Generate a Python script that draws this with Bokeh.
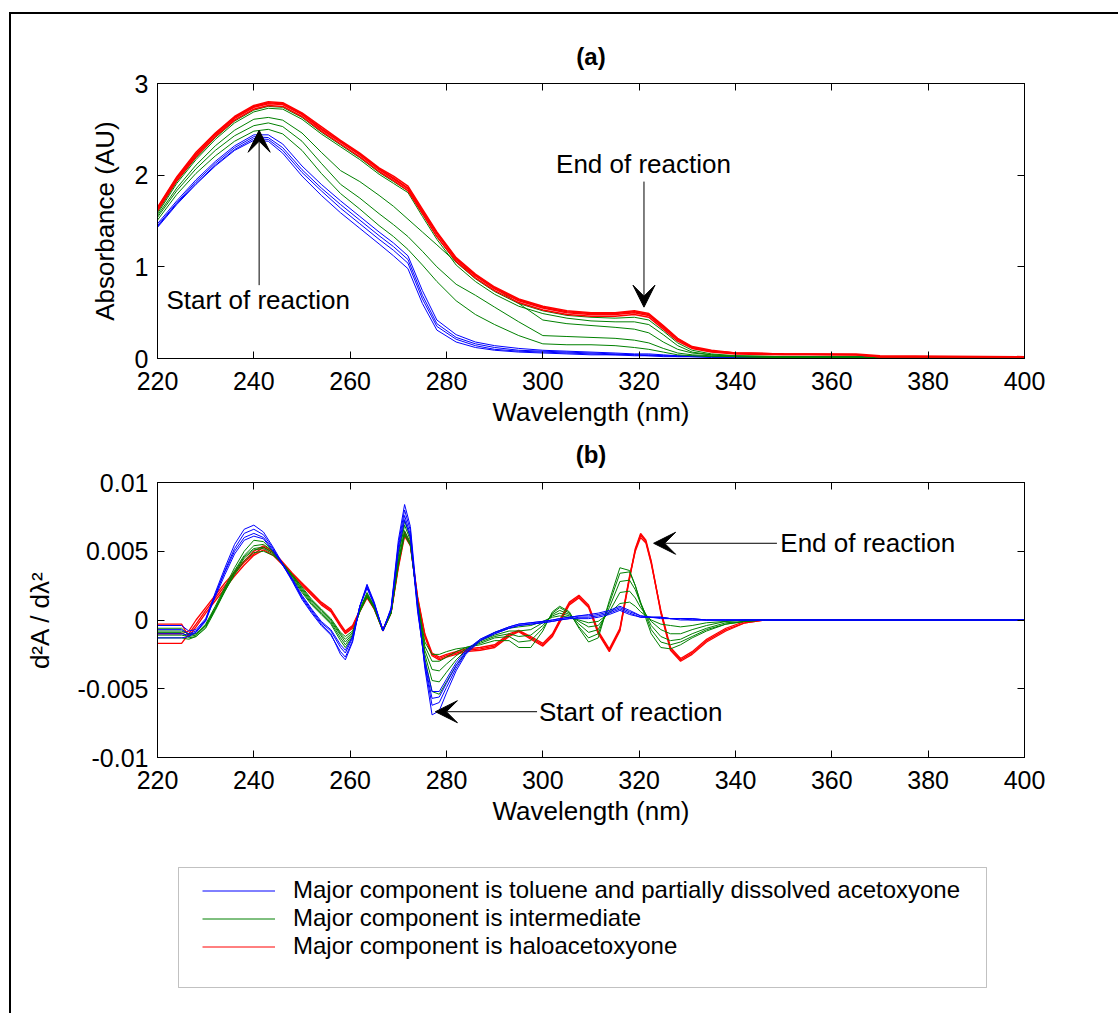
from bokeh.plotting import figure
from bokeh.models import (Range1d, FixedTicker, LinearAxis, CustomJSTickFormatter,
                          Label, Arrow, VeeHead, Legend, LegendItem, BoxAnnotation)
from bokeh.layouts import column
from bokeh.embed import file_html
from bokeh.resources import INLINE

FONT = "Liberation Sans"
BLUE = "#0000FF"
GREEN = "#008000"
RED = "#FF0000"

# ---------------- panel (a): absorbance ----------------
WL_A = [220, 224, 228, 232, 236, 240, 243, 246, 250, 254, 258, 262, 266, 269, 272, 275, 278, 282,
        286, 290, 295, 300, 305, 310, 315, 319, 322, 325, 328, 331, 335, 340, 350, 365, 370, 400]

ABS_BLUE = [
    [1.47, 1.72, 1.95, 2.15, 2.32, 2.44, 2.44, 2.34, 2.10, 1.90, 1.72, 1.55, 1.38, 1.26, 1.12, 0.74, 0.42, 0.26,
     0.18, 0.14, 0.11, 0.09, 0.08, 0.07, 0.06, 0.05, 0.05, 0.04, 0.03, 0.03, 0.02, 0.02, 0.02, 0.02, 0.02, 0.02],
    [1.45, 1.70, 1.93, 2.13, 2.30, 2.42, 2.41, 2.30, 2.06, 1.86, 1.68, 1.51, 1.34, 1.22, 1.08, 0.69, 0.38, 0.23,
     0.16, 0.12, 0.09, 0.08, 0.07, 0.06, 0.05, 0.04, 0.04, 0.03, 0.03, 0.02, 0.02, 0.02, 0.01, 0.01, 0.01, 0.01],
    [1.44, 1.69, 1.91, 2.11, 2.28, 2.40, 2.39, 2.27, 2.03, 1.83, 1.64, 1.47, 1.30, 1.18, 1.04, 0.65, 0.35, 0.21,
     0.14, 0.10, 0.08, 0.07, 0.06, 0.05, 0.04, 0.04, 0.03, 0.03, 0.02, 0.02, 0.02, 0.01, 0.01, 0.01, 0.01, 0.01],
    [1.43, 1.68, 1.90, 2.10, 2.27, 2.38, 2.37, 2.24, 1.99, 1.78, 1.59, 1.42, 1.25, 1.12, 0.98, 0.60, 0.31, 0.18,
     0.12, 0.09, 0.07, 0.06, 0.05, 0.04, 0.04, 0.03, 0.03, 0.02, 0.02, 0.02, 0.01, 0.01, 0.01, 0.01, 0.01, 0.01],
]

ABS_GREEN = [
    [1.60, 1.93, 2.19, 2.41, 2.59, 2.71, 2.75, 2.74, 2.63, 2.47, 2.33, 2.19, 2.03, 1.93, 1.83, 1.58, 1.33, 1.05,
     0.87, 0.73, 0.60, 0.52, 0.47, 0.45, 0.44, 0.45, 0.42, 0.30, 0.17, 0.09, 0.05, 0.03, 0.02, 0.02, 0.01, 0.01],
    [1.58, 1.91, 2.17, 2.39, 2.57, 2.69, 2.73, 2.72, 2.61, 2.45, 2.31, 2.17, 2.01, 1.91, 1.81, 1.55, 1.30, 1.02,
     0.84, 0.70, 0.57, 0.49, 0.44, 0.41, 0.40, 0.40, 0.37, 0.26, 0.14, 0.07, 0.04, 0.03, 0.02, 0.02, 0.01, 0.01],
    [1.56, 1.86, 2.11, 2.32, 2.49, 2.61, 2.63, 2.60, 2.46, 2.25, 2.05, 1.93, 1.78, 1.66, 1.52, 1.38, 1.24, 1.05,
     0.91, 0.77, 0.60, 0.42, 0.38, 0.36, 0.34, 0.32, 0.28, 0.18, 0.10, 0.06, 0.04, 0.02, 0.02, 0.01, 0.01, 0.01],
    [1.54, 1.83, 2.07, 2.27, 2.43, 2.54, 2.57, 2.53, 2.37, 2.13, 1.90, 1.75, 1.58, 1.46, 1.33, 1.17, 1.00, 0.81,
     0.69, 0.56, 0.40, 0.25, 0.24, 0.23, 0.22, 0.20, 0.17, 0.11, 0.06, 0.04, 0.03, 0.02, 0.01, 0.01, 0.01, 0.01],
    [1.51, 1.79, 2.02, 2.21, 2.37, 2.48, 2.50, 2.45, 2.27, 2.02, 1.80, 1.63, 1.45, 1.33, 1.19, 1.02, 0.84, 0.63,
     0.48, 0.37, 0.25, 0.16, 0.15, 0.15, 0.14, 0.12, 0.10, 0.07, 0.04, 0.03, 0.02, 0.02, 0.01, 0.01, 0.01, 0.01],
]

ABS_RED = [
    [1.63, 1.96, 2.22, 2.44, 2.62, 2.74, 2.78, 2.77, 2.66, 2.50, 2.36, 2.22, 2.06, 1.96, 1.85, 1.60, 1.36, 1.08,
     0.90, 0.76, 0.63, 0.55, 0.50, 0.48, 0.48, 0.50, 0.47, 0.34, 0.21, 0.12, 0.08, 0.06, 0.05, 0.04, 0.02, 0.02],
    [1.65, 1.98, 2.25, 2.46, 2.64, 2.76, 2.80, 2.79, 2.68, 2.53, 2.38, 2.24, 2.08, 1.99, 1.88, 1.63, 1.38, 1.10,
     0.92, 0.78, 0.65, 0.57, 0.52, 0.50, 0.50, 0.52, 0.49, 0.36, 0.22, 0.13, 0.09, 0.06, 0.05, 0.05, 0.03, 0.02],
    [1.61, 1.94, 2.20, 2.42, 2.60, 2.72, 2.76, 2.75, 2.64, 2.48, 2.34, 2.20, 2.04, 1.94, 1.83, 1.58, 1.33, 1.06,
     0.88, 0.74, 0.61, 0.53, 0.48, 0.46, 0.46, 0.48, 0.45, 0.32, 0.19, 0.11, 0.07, 0.05, 0.04, 0.04, 0.02, 0.02],
    [1.64, 1.97, 2.23, 2.45, 2.63, 2.75, 2.79, 2.78, 2.67, 2.51, 2.37, 2.23, 2.07, 1.97, 1.86, 1.61, 1.37, 1.09,
     0.91, 0.77, 0.64, 0.56, 0.51, 0.49, 0.49, 0.51, 0.48, 0.35, 0.21, 0.12, 0.08, 0.06, 0.05, 0.04, 0.02, 0.02],
]

# ---------------- panel (b): second derivative (values in units of 1e-3) ----------------
WL_B = [220, 225, 226.5, 228, 230, 232, 234, 236, 238, 240,
        242, 244, 246, 248, 250, 252, 254, 256, 258, 259,
        260.5, 262, 263.5, 265, 266.8, 268.5, 270, 271.3, 272.5, 274,
        275.5, 277, 278.5, 280, 282, 284, 287, 290, 293, 295,
        297.5, 300, 302, 303.5, 305.5, 307.5, 309.5, 311.5, 313.8, 316,
        318, 319.2, 320.3, 321.4, 322.5, 324.5, 326.5, 328.6, 331, 334,
        338, 342, 346, 400]

D2_BLUE = [
    [-0.7, -0.7, -1.0, -0.8, 0.0, 2.0, 3.8, 5.5, 6.6, 6.9,
     6.4, 5.3, 4.1, 2.9, 1.6, 0.6, -0.3, -1.0, -2.5, -2.9,
     -1.6, 1.0, 2.6, 1.3, -0.8, 0.9, 5.8, 8.4, 6.8, 1.2,
     -3.5, -6.9, -6.6, -5.3, -3.7, -2.5, -1.5, -1.0, -0.6, -0.4,
     -0.3, -0.2, -0.1, 0.0, 0.1, 0.1, 0.1, 0.2, 0.4, 0.7,
     0.4, 0.3, 0.2, 0.2, 0.2, 0.2, 0.1, 0.1, 0.1, 0.0,
     0.0, 0.0, 0.0, 0.0],
    [-1.0, -1.0, -1.1, -0.9, -0.1, 1.8, 3.6, 5.2, 6.3, 6.6,
     6.2, 5.2, 4.0, 2.8, 1.5, 0.5, -0.4, -1.1, -2.3, -2.7,
     -1.5, 1.0, 2.5, 1.2, -0.8, 0.8, 5.5, 8.0, 6.5, 1.0,
     -3.3, -6.2, -6.0, -4.9, -3.5, -2.4, -1.5, -1.0, -0.6, -0.4,
     -0.3, -0.2, -0.1, 0.0, 0.1, 0.2, 0.2, 0.3, 0.5, 0.8,
     0.5, 0.35, 0.2, 0.2, 0.2, 0.2, 0.1, 0.1, 0.1, 0.0,
     0.0, 0.0, 0.0, 0.0],
    [-0.4, -0.4, -0.8, -0.7, 0.1, 1.9, 3.5, 5.0, 6.0, 6.3,
     6.0, 5.1, 4.0, 2.9, 1.7, 0.7, -0.2, -0.8, -2.0, -2.4,
     -1.3, 1.0, 2.4, 1.2, -0.7, 0.8, 5.3, 7.6, 6.2, 0.8,
     -3.2, -5.7, -5.6, -4.6, -3.3, -2.3, -1.4, -0.9, -0.5, -0.3,
     -0.2, -0.1, 0.0, 0.1, 0.2, 0.3, 0.3, 0.4, 0.6, 0.9,
     0.6, 0.45, 0.3, 0.25, 0.2, 0.2, 0.1, 0.1, 0.0, 0.0,
     0.0, 0.0, 0.0, 0.0],
    [-1.3, -1.3, -1.2, -0.9, 0.0, 1.7, 3.3, 4.8, 5.8, 6.1,
     5.9, 5.0, 4.0, 3.0, 1.8, 0.8, -0.1, -0.7, -1.8, -2.2,
     -1.2, 1.0, 2.3, 1.1, -0.7, 0.7, 5.0, 7.3, 6.0, 0.6,
     -3.0, -5.2, -5.2, -4.3, -3.1, -2.2, -1.4, -0.9, -0.5, -0.3,
     -0.2, -0.1, 0.0, 0.1, 0.2, 0.3, 0.4, 0.5, 0.7, 1.0,
     0.7, 0.5, 0.3, 0.25, 0.2, 0.1, 0.1, 0.0, 0.0, 0.0,
     0.0, 0.0, 0.0, 0.0],
]

D2_GREEN = [
    [-0.8, -0.8, -1.0, -1.0, -0.3, 1.0, 2.4, 3.8, 5.0, 5.8,
     5.7, 5.0, 4.0, 3.0, 2.0, 1.1, 0.4, -0.3, -1.5, -2.0,
     -1.2, 0.8, 2.0, 1.0, -0.8, 0.7, 4.8, 7.2, 6.0, 1.0,
     -2.8, -5.2, -5.4, -4.5, -3.3, -2.4, -1.5, -0.9, -0.6, -0.5,
     -0.4, -0.1, 0.2, 0.3, 0.2, 0.0, -0.2, -0.1, 0.5, 1.2,
     1.3, 1.0, 0.6, 0.3, 0.0, -0.3, -0.4, -0.5, -0.4, -0.2,
     -0.1, 0.0, 0.0, 0.0],
    [-1.1, -1.1, -1.2, -1.1, -0.4, 0.9, 2.3, 3.6, 4.7, 5.4,
     5.5, 5.0, 4.1, 3.1, 2.1, 1.2, 0.5, -0.2, -1.3, -1.8,
     -1.1, 0.7, 1.9, 1.0, -0.8, 0.6, 4.6, 6.9, 5.8, 1.1,
     -2.5, -4.4, -4.5, -3.8, -2.9, -2.2, -1.5, -1.1, -0.8, -0.8,
     -0.7, -0.2, 0.3, 0.5, 0.3, -0.1, -0.5, -0.4, 0.6, 2.0,
     2.1, 1.6, 0.9, 0.4, -0.1, -0.7, -1.0, -1.0, -0.7, -0.4,
     -0.1, 0.0, 0.0, 0.0],
    [-0.9, -0.9, -1.3, -1.2, -0.5, 0.8, 2.2, 3.5, 4.6, 5.2,
     5.3, 4.9, 4.1, 3.2, 2.2, 1.3, 0.6, -0.1, -1.1, -1.6,
     -1.0, 0.7, 1.8, 0.9, -0.8, 0.5, 4.3, 6.5, 5.6, 1.2,
     -2.2, -3.6, -3.7, -3.2, -2.6, -2.1, -1.6, -1.2, -1.0, -1.2,
     -1.1, -0.4, 0.4, 0.7, 0.4, -0.3, -0.9, -0.7, 0.9, 2.8,
     2.9, 2.2, 1.2, 0.4, -0.4, -1.2, -1.5, -1.4, -1.0, -0.6,
     -0.2, -0.1, 0.0, 0.0],
    [-1.3, -1.3, -1.4, -1.2, -0.6, 0.7, 2.1, 3.4, 4.5, 5.1,
     5.2, 4.8, 4.1, 3.2, 2.3, 1.4, 0.7, 0.0, -1.0, -1.4,
     -0.9, 0.6, 1.7, 0.9, -0.8, 0.5, 4.1, 6.3, 5.5, 1.3,
     -1.9, -3.0, -3.0, -2.7, -2.3, -2.0, -1.7, -1.3, -1.2, -1.6,
     -1.5, -0.6, 0.5, 0.9, 0.5, -0.5, -1.3, -1.0, 1.2, 3.4,
     3.5, 2.5, 1.3, 0.3, -0.7, -1.6, -1.8, -1.6, -1.2, -0.7,
     -0.3, -0.1, 0.0, 0.0],
    [-0.6, -0.6, -1.1, -1.0, -0.4, 0.8, 2.1, 3.3, 4.3, 4.9,
     5.0, 4.7, 4.1, 3.3, 2.4, 1.5, 0.8, 0.1, -0.9, -1.2,
     -0.8, 0.6, 1.7, 0.8, -0.8, 0.5, 4.0, 6.2, 5.4, 1.4,
     -1.6, -2.5, -2.5, -2.3, -2.1, -2.0, -1.8, -1.5, -1.5, -2.0,
     -2.0, -0.8, 0.6, 1.0, 0.6, -0.6, -1.6, -1.3, 1.4, 3.8,
     3.6, 2.5, 1.2, 0.1, -1.0, -2.0, -2.1, -1.8, -1.3, -0.8,
     -0.3, -0.1, 0.0, 0.0],
]

D2_RED = [
    [-0.3, -0.3, -1.2, -0.5, 0.5, 1.4, 2.3, 3.2, 4.0, 4.7,
     5.1, 4.7, 4.0, 3.2, 2.5, 1.8, 1.1, 0.6, -0.5, -1.0,
     -0.6, 0.6, 1.6, 0.8, -0.8, 0.5, 3.8, 6.1, 5.4, 1.5,
     -1.2, -2.6, -2.9, -2.7, -2.5, -2.3, -2.2, -2.0, -1.2, -0.85,
     -1.4, -1.9, -1.2, -0.2, 1.1, 1.6, 0.9, -1.0, -2.3, -0.8,
     3.0, 5.1, 6.2, 5.7, 4.2, 0.5, -2.2, -3.0, -2.5, -1.6,
     -0.8, -0.2, 0.0, 0.0],
    [-1.7, -1.7, -1.0, -0.3, 0.7, 1.6, 2.5, 3.4, 4.2, 4.8,
     5.3, 4.9, 4.1, 3.3, 2.6, 1.9, 1.2, 0.7, -0.4, -0.9,
     -0.5, 0.7, 1.7, 0.8, -0.7, 0.6, 3.9, 6.3, 5.5, 1.6,
     -1.1, -2.5, -2.8, -2.6, -2.4, -2.2, -2.1, -1.9, -1.1, -0.8,
     -1.3, -1.8, -1.1, -0.1, 1.2, 1.7, 1.0, -0.9, -2.2, -0.7,
     3.1, 5.2, 6.3, 5.8, 4.3, 0.6, -2.1, -2.9, -2.4, -1.5,
     -0.7, -0.2, 0.0, 0.0],
    [-1.0, -1.0, -0.8, 0.0, 0.9, 1.8, 2.7, 3.5, 4.3, 5.0,
     5.4, 5.0, 4.2, 3.4, 2.7, 2.0, 1.3, 0.8, -0.3, -0.8,
     -0.4, 0.7, 1.8, 0.9, -0.7, 0.6, 4.0, 6.4, 5.6, 1.7,
     -1.0, -2.4, -2.7, -2.5, -2.3, -2.1, -2.0, -1.8, -1.0, -0.75,
     -1.2, -1.7, -1.0, 0.0, 1.3, 1.8, 1.1, -0.8, -2.1, -0.6,
     3.2, 5.0, 6.0, 5.6, 4.1, 0.7, -2.0, -2.8, -2.3, -1.4,
     -0.6, -0.1, 0.0, 0.0],
]

X_TICKS = [220, 240, 260, 280, 300, 320, 340, 360, 380, 400]
YA_TICKS = [0, 1, 2, 3]
YB_TICKS = [-0.01, -0.005, 0, 0.005, 0.01]

LEGEND_LABELS = ["Major component is toluene and partially dissolved acetoxyone",
                 "Major component is intermediate",
                 "Major component is haloacetoxyone"]

W = 1107
BL = 146
BR = W - BL - 867        # shared borders so all frames are 867 px wide
TICK_FS = "25px"
LAB_FS = "26px"
ANN_FS = "26px"


def style_axis(ax, show_labels, is_y, label_standoff):
    ax.major_tick_in = 7
    ax.major_tick_out = 0
    ax.minor_tick_line_color = None
    ax.axis_line_color = "black"
    ax.major_tick_line_color = "black"
    ax.major_label_text_font = FONT
    ax.major_label_text_font_size = TICK_FS
    ax.major_label_text_color = "black"
    ax.axis_label_text_font = FONT
    ax.axis_label_text_font_size = LAB_FS
    ax.axis_label_text_font_style = "normal"
    ax.axis_label_text_color = "black"
    ax.major_label_standoff = 9 if is_y else 13
    ax.axis_label_standoff = label_standoff
    if not show_labels:
        ax.formatter = CustomJSTickFormatter(code="return ''")
        ax.major_label_text_font_size = "0px"
        ax.major_label_standoff = 0


def make_panel(height, yr, yticks, ylabel, title, title_standoff, mb_top, mb_bottom,
               ylab_standoff, yfmt=None):
    p = figure(width=W, height=height, x_range=Range1d(220, 400), y_range=Range1d(*yr),
               output_backend="svg", toolbar_location=None,
               x_axis_location=None, y_axis_location=None,
               min_border_left=BL, min_border_right=BR,
               min_border_top=mb_top, min_border_bottom=mb_bottom)
    p.grid.visible = False
    p.outline_line_color = "black"
    p.background_fill_color = "white"
    p.border_fill_color = "white"

    xb = LinearAxis(ticker=FixedTicker(ticks=X_TICKS), axis_label="Wavelength (nm)")
    style_axis(xb, True, False, 4)
    p.add_layout(xb, "below")
    # top axis: inward ticks only, panel title as its label
    xa = LinearAxis(ticker=FixedTicker(ticks=X_TICKS), axis_label=title)
    style_axis(xa, False, False, title_standoff)
    xa.axis_label_text_font_style = "bold"
    xa.axis_label_text_font_size = "24px"
    p.add_layout(xa, "above")

    yl = LinearAxis(ticker=FixedTicker(ticks=yticks), axis_label=ylabel)
    style_axis(yl, True, True, ylab_standoff)
    if yfmt is not None:
        yl.formatter = yfmt
    p.add_layout(yl, "left")
    yr_ax = LinearAxis(ticker=FixedTicker(ticks=yticks))
    style_axis(yr_ax, False, True, 0)
    p.add_layout(yr_ax, "right")
    return p


def label(p, x, y, text, align="center"):
    p.add_layout(Label(x=x, y=y, text=text, text_align=align, text_baseline="middle",
                       text_font=FONT, text_font_size=ANN_FS, text_color="black"))


def arrow(p, xs, ys, xe, ye):
    p.add_layout(Arrow(end=VeeHead(size=22, fill_color="black", line_color="black", line_width=1),
                       x_start=xs, y_start=ys, x_end=xe, y_end=ye,
                       line_color="black", line_width=1))


# ---- panel (a)
pa = make_panel(422, (0, 3), YA_TICKS, "Absorbance (AU)", "(a)", 14, 69, 78, 12)
for vals in ABS_BLUE:
    pa.line(WL_A, vals, line_color=BLUE, line_width=1)
for vals in ABS_GREEN:
    pa.line(WL_A, vals, line_color=GREEN, line_width=1)
for vals in ABS_RED:
    pa.line(WL_A, vals, line_color=RED, line_width=1.5)
label(pa, 240.9, 0.64, "Start of reaction")
arrow(pa, 241.1, 0.80, 241.1, 2.49)
label(pa, 320.9, 2.12, "End of reaction")
arrow(pa, 321.0, 1.93, 321.0, 0.56)

# ---- panel (b)
fmt_b = CustomJSTickFormatter(code="return (Math.round(tick*10000)/10000).toString();")
pb = make_panel(404, (-0.01, 0.01), YB_TICKS, "d\u00b2A / d\u03bb\u00b2", "(b)", 15, 46, 83, 20,
                yfmt=fmt_b)
for vals in D2_RED:
    pb.line(WL_B, [v * 1e-3 for v in vals], line_color=RED, line_width=1.3)
for vals in D2_GREEN:
    pb.line(WL_B, [v * 1e-3 for v in vals], line_color=GREEN, line_width=1)
for vals in D2_BLUE:
    pb.line(WL_B, [v * 1e-3 for v in vals], line_color=BLUE, line_width=1)
label(pb, 349.3, 0.00558, "End of reaction", align="left")
arrow(pb, 348.6, 0.00558, 323.0, 0.00558)
label(pb, 299.2, -0.00667, "Start of reaction", align="left")
arrow(pb, 298.8, -0.00667, 277.7, -0.00667)

# ---- legend panel (its frame uses page-pixel coordinates)
pl = figure(width=W, height=173, x_range=Range1d(157, 1024), y_range=Range1d(990, 850),
            output_backend="svg", toolbar_location=None,
            x_axis_location=None, y_axis_location=None,
            min_border_left=BL, min_border_right=BR, min_border_top=10, min_border_bottom=23)
pl.grid.visible = False
pl.outline_line_color = None
pl.add_layout(BoxAnnotation(left=178, right=986, top=867, bottom=987,
                            fill_alpha=0, line_color="#333333", line_width=1))
rens = [pl.line(x=[0, 1], y=[0, 0], line_color=c, line_width=1) for c in (BLUE, GREEN, RED)]
leg = Legend(items=[LegendItem(label=t, renderers=[r]) for t, r in zip(LEGEND_LABELS, rens)],
             location=(45, 30), orientation="vertical", padding=0, margin=0, spacing=0,
             label_height=27, glyph_height=27, glyph_width=73, label_standoff=18,
             label_text_font=FONT, label_text_font_size="24px", label_text_color="black",
             border_line_alpha=0, background_fill_alpha=0)
pl.add_layout(leg)

layout = column(pa, pb, pl, spacing=0, margin=(12, 0, 0, 9),
                styles={"border-top": "2px solid black", "border-left": "2px solid black"})

with open("out.html", "w") as f:
    f.write(file_html(layout, INLINE))
